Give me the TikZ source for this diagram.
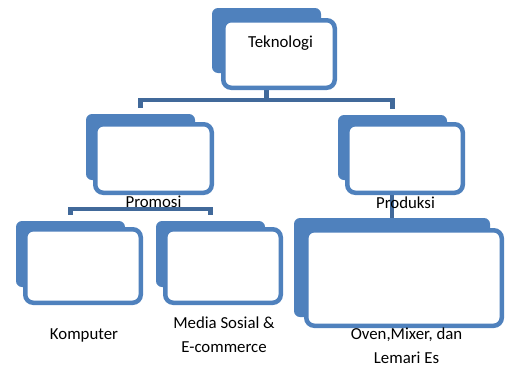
\documentclass[tikz,border=0pt]{standalone}
\usepackage{fontspec}
\setmainfont{Carlito}
\definecolor{boxblue}{HTML}{4F81BD}
\definecolor{linkblue}{HTML}{41699A}
\tikzset{
  backbox/.style={rectangle, fill=boxblue, rounded corners=6pt, inner sep=0pt},
  frontbox/.style={rectangle, fill=white, draw=boxblue, line width=4.5pt, rounded corners=8pt, inner sep=0pt},
  conn/.style={draw=linkblue, line width=4.5pt},
  lbl/.style={inner sep=0pt, align=center, font=\fontsize{16.8}{24}\selectfont}
}
\begin{document}
\begin{tikzpicture}[x=1pt, y=-1pt]
\useasboundingbox (0,0) rectangle (505,367);

% back plates
\node[backbox, minimum width=109pt, minimum height=65pt] (tekB) at (266.5,40.5) {};
\node[backbox, minimum width=109pt, minimum height=66pt] (proB) at (140.5,147) {};
\node[backbox, minimum width=109pt, minimum height=65pt] (prodB) at (392.5,147.5) {};
\node[backbox, minimum width=109pt, minimum height=66pt] (komB) at (70.5,254) {};
\node[backbox, minimum width=109pt, minimum height=66pt] (medB) at (210.5,254) {};
\node[backbox, minimum width=196pt, minimum height=99pt] (ovenB) at (392,267.5) {};

% connectors, drawn before the front cards so the cards cover their ends
\coordinate (tekS) at (266.5,87.75);
\coordinate (prodS) at (392,192.75);
\path[conn, shorten >=6pt] (tekS) -- ++(0,12) -| (proB.north);
\path[conn, shorten >=6pt] (tekS) -- ++(0,12) -| (prodB.north);
\path[conn, shorten <=6pt, shorten >=6pt] (komB.north) -- ++(0,-12) -| (medB.north);
\path[conn] (prodS) -- (ovenB.north);

% front cards
\node[frontbox, minimum width=111.5pt, minimum height=67.5pt] (tek) at (279,54) {};
\node[frontbox, minimum width=116.5pt, minimum height=68.5pt] (pro) at (153.5,158.5) {};
\node[frontbox, minimum width=115.5pt, minimum height=68.5pt] (prod) at (405,158.5) {};
\node[frontbox, minimum width=115.5pt, minimum height=73.5pt] (kom) at (83,266) {};
\node[frontbox, minimum width=115.5pt, minimum height=73.5pt] (med) at (223,266) {};
\node[frontbox, minimum width=195.5pt, minimum height=95.5pt] (oven) at (404,278) {};

% labels
\node[lbl] (tekL) at (280.5,43) {Teknologi};
\node[lbl] (proL) at (153.5,202) {Promosi};
\node[lbl] (prodL) at (405.5,203) {Produksi};
\node[lbl] (komL) at (84,335) {Komputer};
\node[lbl] (medL) at (224,335) {Media Sosial \&\\E-commerce};
\node[lbl] (ovenL) at (406.5,346) {Oven,Mixer, dan\\Lemari Es};
\end{tikzpicture}
\end{document}
